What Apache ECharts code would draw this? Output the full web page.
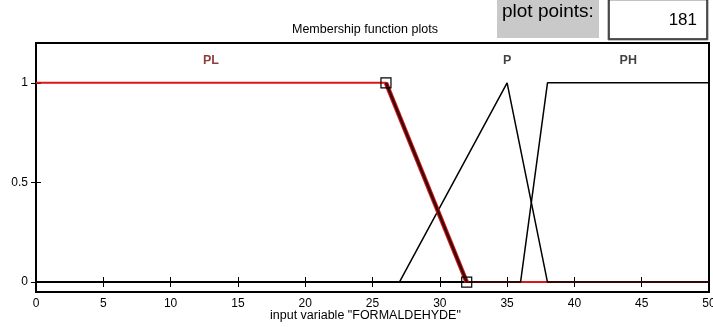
<!DOCTYPE html>
<html>
<head>
<meta charset="utf-8">
<script src="https://cdn.jsdelivr.net/npm/echarts@6/dist/echarts.min.js"></script>
<style>
  html, body { margin: 0; padding: 0; background: #fff; }
  #main { width: 713px; height: 327px; }
</style>
</head>
<body>
<div id="main"></div>
<script>
// membership functions of input "FORMALDEHYDE"
const xTicks = [0, 5, 10, 15, 20, 25, 30, 35, 40, 45, 50];
const yTicks = [0, 0.5, 1];
const mfPL = [[0, 1], [26, 1], [32, 0], [50, 0]];
const mfP = [[0, 0], [27, 0], [35, 1], [38, 0], [50, 0]];
const mfPH = [[0, 0], [36, 0], [38, 1], [50, 1]];
const mfNames = ["PL", "P", "PH"];
const mfLabelX = [13, 35, 44];
const mfLabelY = 1.11;
const plotPoints = "181";

const myChart = echarts.init(document.getElementById("main"));
const font = "Liberation Sans, Arial, sans-serif";

// the selected MF (PL) slope and its handles
const plSlope = mfPL.slice(1, 3);

const option = {
  animation: false,
  backgroundColor: "#fff",
  textStyle: { fontFamily: font },
  grid: {
    left: 36, right: 4, top: 43, bottom: 35,
    outerBoundsMode: "none",
    show: true, borderColor: "#000", borderWidth: 2
  },
  xAxis: [
    {
      type: "value", min: 0, max: 50, interval: 5,
      position: "bottom",
      axisLine: { lineStyle: { color: "#000", width: 2 } },
      axisTick: { inside: true, length: 5, lineStyle: { color: "#000" } },
      axisLabel: { color: "#000", fontSize: 12, margin: 6, fontFamily: font,
        showMaxLabel: true, showMinLabel: true },
      splitLine: { show: false }
    },
    {
      type: "value", min: 0, max: 50, interval: 5,
      position: "top",
      axisLine: { lineStyle: { color: "#000", width: 2 } },
      axisTick: { inside: true, length: 5, lineStyle: { color: "#000" } },
      axisLabel: { show: false },
      splitLine: { show: false }
    }
  ],
  yAxis: [
    {
      type: "value", min: -0.05, max: 1.2,
      position: "left",
      axisLine: { show: true, lineStyle: { color: "#000", width: 2 } },
      axisTick: { inside: true, length: 5, customValues: yTicks, lineStyle: { color: "#000" } },
      axisLabel: { color: "#000", fontSize: 12, margin: 8, fontFamily: font, customValues: yTicks },
      splitLine: { show: false }
    },
    {
      type: "value", min: -0.05, max: 1.2,
      position: "right",
      axisLine: { show: true, lineStyle: { color: "#000", width: 2 } },
      axisTick: { inside: true, length: 5, customValues: yTicks, lineStyle: { color: "#000" } },
      axisLabel: { show: false },
      splitLine: { show: false }
    }
  ],
  series: [
    {
      name: "PL", type: "line", data: mfPL, symbol: "none",
      lineStyle: { color: "#d81818", width: 2 }, z: 2
    },
    {
      name: "P", type: "line", data: mfP, symbol: "none",
      lineStyle: { color: "#000", width: 1.5 }, z: 3
    },
    {
      name: "PH", type: "line", data: mfPH, symbol: "none",
      lineStyle: { color: "#000", width: 1.5 }, z: 3
    },
    {
      name: "PL edge", type: "line", data: plSlope, symbol: "none",
      lineStyle: { color: "#d81818", width: 4.5 }, z: 4
    },
    {
      name: "PL core", type: "line", data: plSlope,
      symbol: "rect", symbolSize: 10, showSymbol: true,
      itemStyle: { color: "rgba(0,0,0,0)", borderColor: "#000", borderWidth: 1.2 },
      lineStyle: { color: "#3a0a0a", width: 2.5 }, z: 5
    },
    {
      name: "labels", type: "scatter", symbolSize: 2,
      itemStyle: { color: "rgba(0,0,0,0)" },
      data: mfNames.map((n, i) => ({
        value: [mfLabelX[i], mfLabelY], name: n,
        label: { color: i === 0 ? "#6e0c0c" : "#111" }
      })),
      label: {
        show: true, position: "inside",
        formatter: "{b}", fontWeight: "bold", fontSize: 12.5, fontFamily: font
      },
      z: 6
    }
  ],
  graphic: [
    {
      type: "text", left: 292, top: 23,
      style: { text: "Membership function plots", font: "12.5px " + font, fill: "#000" }
    },
    {
      type: "text", left: 270, top: 309,
      style: { text: 'input variable "FORMALDEHYDE"', font: "12.5px " + font, fill: "#000" }
    },
    {
      type: "rect", shape: { x: 497, y: 0, width: 102, height: 38 },
      style: { fill: "#c9c9c9" }
    },
    {
      type: "text", left: 502, top: 2,
      style: { text: "plot points:", font: "19px " + font, fill: "#000" }
    },
    {
      type: "rect", shape: { x: 608, y: 0, width: 100, height: 40 },
      style: { fill: "#fff", stroke: "#888", lineWidth: 1 }
    },
    {
      type: "polyline", shape: { points: [[609, 0], [609, 39], [707, 39], [707, 0]] },
      style: { stroke: "#222", lineWidth: 1.5, fill: null }
    },
    {
      type: "text", right: 16, top: 12,
      style: { text: plotPoints, font: "17px " + font, fill: "#000", textAlign: "right" }
    }
  ]
};

myChart.setOption(option);
</script>
</body>
</html>
